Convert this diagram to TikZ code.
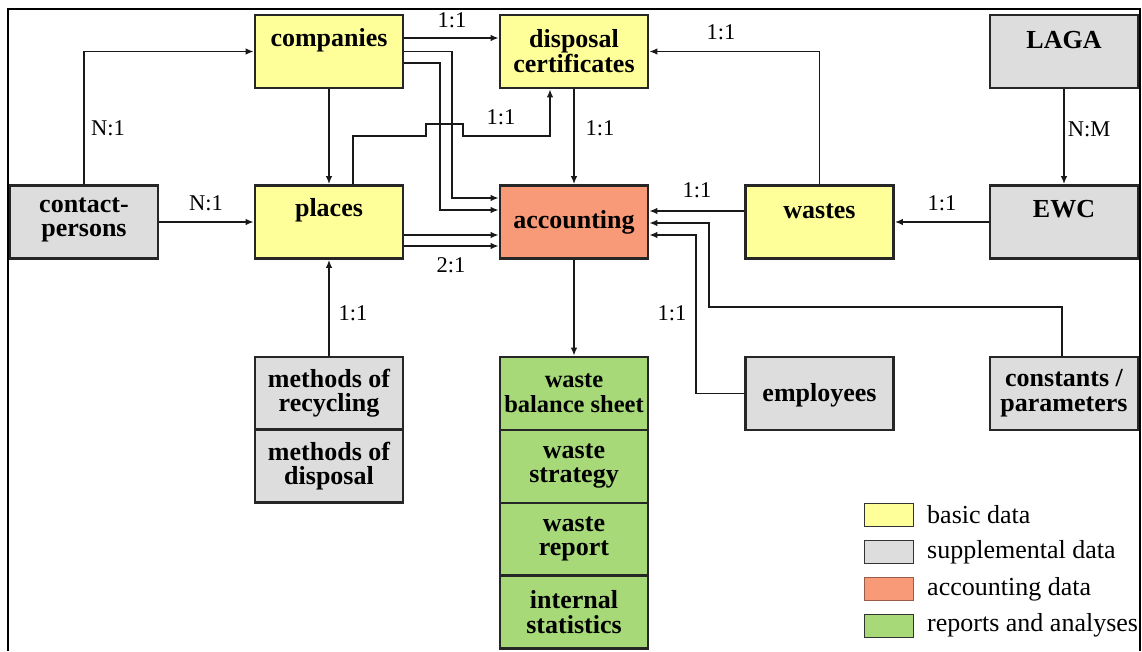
\documentclass[tikz,border=0pt]{standalone}
\usepackage{fontspec}
\setmainfont{Liberation Serif}
\usetikzlibrary{arrows.meta}
\definecolor{yb}{RGB}{255,255,153}
\definecolor{gb}{RGB}{221,221,221}
\definecolor{ob}{RGB}{248,153,120}
\definecolor{grb}{RGB}{167,217,120}
\tikzset{
  box/.style={draw=black!85, line width=2.6pt, inner sep=0pt, minimum width=148pt, minimum height=73pt},
  basic/.style={box, fill=yb},
  supp/.style={box, fill=gb},
  acc/.style={box, fill=ob},
  rep/.style={box, fill=grb},
  btxt/.style={font=\fontsize{26}{24.5}\selectfont\bfseries, align=center, inner sep=0pt},
  lbl/.style={font=\fontsize{22.5}{24}\selectfont, inner sep=0pt},
  conn/.style={line width=1.7pt, black!90},
  arr/.style={conn, -{Latex[length=8pt,width=6.5pt]}},
  legsq/.style={draw=black!80, line width=1pt, minimum width=49pt, minimum height=23pt, inner sep=0pt},
  legtxt/.style={font=\fontsize{26}{27}\selectfont, anchor=west, inner sep=0pt},
}
\begin{document}
\begin{tikzpicture}[x=1pt,y=-1pt]
\useasboundingbox (0,0) rectangle (1142,651);
% frame
\draw[line width=1.6pt] (8,651) -- (8,9) -- (1140,9) -- (1140,651);

% boxes
\node[basic] (companies) at (329,51.5) {};
\node[basic] (disposal) at (574,51.5) {};
\node[supp]  (laga) at (1064,51.5) {};
\node[supp]  (contact) at (84,222) {};
\node[basic] (places) at (329,222) {};
\node[acc]   (accounting) at (574,222) {};
\node[basic] (wastes) at (819.5,222) {};
\node[supp]  (ewc) at (1064,222) {};
\node[supp]  (recycling) at (329,393.5) {};
\node[supp]  (mdisposal) at (329,466) {};
\node[rep]   (wbs) at (574,393.5) {};
\node[rep]   (wstrat) at (574,466.5) {};
\node[rep]   (wrep) at (574,539.5) {};
\node[rep]   (istat) at (574,612) {};
\node[supp]  (employees) at (819.5,393.5) {};
\node[supp]  (constants) at (1064,393.5) {};

% box texts
\node[btxt] (companies-t) at (329,40) {companies};
\node[btxt] (disposal-t) at (574,51) {disposal\\certificates};
\node[btxt] (laga-t) at (1064,40) {LAGA};
\node[btxt] (contact-t) at (84,220) {contact-\\persons};
\node[btxt] (places-t) at (329,210) {places};
\node[btxt] (accounting-t) at (574,222) {accounting};
\node[btxt] (wastes-t) at (819.5,211) {wastes};
\node[btxt] (ewc-t) at (1064,209) {EWC};
\node[btxt] (recycling-t) at (329,393) {methods of\\recycling};
\node[btxt] (mdisposal-t) at (329,466) {methods of\\disposal};
\node[btxt, font=\fontsize{24.5}{24.5}\selectfont\bfseries] (wbs-t) at (574,393) {waste\\balance sheet};
\node[btxt] (wstrat-t) at (574,466) {waste\\strategy};
\node[btxt] (wrep-t) at (574,539) {waste\\report};
\node[btxt] (istat-t) at (574,612) {internal\\statistics};
\node[btxt] (employees-t) at (819.5,395) {employees};
\node[btxt] (constants-t) at (1064,393) {constants /\\parameters};

% connectors
\draw[arr] (contact.north) |- (companies.west);
\draw[arr] (contact.east) -- (places.west);
\draw[arr] (companies.east |- 0,38) -- (disposal.west |- 0,38);
\draw[arr] (companies.east) -| (452,198) -- (accounting.west |- 0,198);
\draw[arr] (companies.east |- 0,63) -| (440,210) -- (accounting.west |- 0,210);
\draw[arr] (companies.south) -- (places.north);
\draw[arr] (places.north -| 353,0) -- (353,136) -- (426,136) -- (426,124) -- (463,124) -- (463,136) -- (550,136) -- (disposal.south -| 550,0);
\draw[arr] (places.east |- 0,235) -- (accounting.west |- 0,235);
\draw[arr] (places.east |- 0,246) -- (accounting.west |- 0,246);
\draw[arr] (disposal.south) -- (accounting.north);
\draw[arr] (wastes.north) |- (disposal.east);
\draw[arr] (wastes.west |- 0,211) -- (accounting.east |- 0,211);
\draw[arr] (ewc.west) -- (wastes.east);
\draw[arr] (laga.south) -- (ewc.north);
\draw[arr] (constants.north -| 1062,0) -- (1062,307) -- (709,307) -- (709,223) -- (accounting.east |- 0,223);
\draw[arr] (employees.west) -| (696,235) -- (accounting.east |- 0,235);
\draw[arr] (accounting.south) -- (wbs.north);
\draw[arr] (recycling.north) -- (places.south);

% labels
\node[lbl] (l1) at (108,128) {N:1};
\node[lbl] (l2) at (206,203) {N:1};
\node[lbl] (l3) at (452,20) {1:1};
\node[lbl] (l4) at (501,117) {1:1};
\node[lbl] (l5) at (600,128) {1:1};
\node[lbl] (l6) at (451,265) {2:1};
\node[lbl] (l7) at (721,32) {1:1};
\node[lbl] (l8) at (697,190) {1:1};
\node[lbl] (l9) at (942,203) {1:1};
\node[lbl] (l10) at (1089,129) {N:M};
\node[lbl] (l11) at (672,313) {1:1};
\node[lbl] (l12) at (353,313) {1:1};

% legend
\node[legsq, fill=yb] (lg1) at (889,515) {};
\node[legsq, fill=gb] (lg2) at (889,552) {};
\node[legsq, fill=ob, draw=ob!60!black] (lg3) at (889,589) {};
\node[legsq, fill=grb] (lg4) at (889,625.5) {};
\node[legtxt] (lt1) at (927,515) {basic data};
\node[legtxt] (lt2) at (927,552) {supplemental data};
\node[legtxt] (lt3) at (927,589) {accounting data};
\node[legtxt] (lt4) at (927,625) {reports and analyses};
\end{tikzpicture}
\end{document}
